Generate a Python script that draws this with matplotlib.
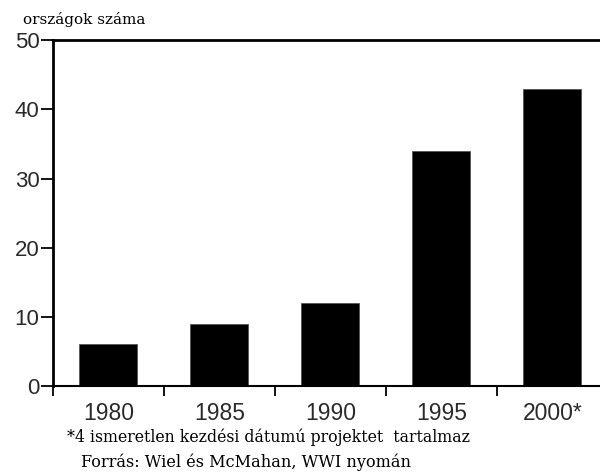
import matplotlib.pyplot as plt
import numpy as np

# data
years = ['1980', '1985', '1990', '1995', '2000*']
counts = [6, 9, 12, 34, 43]
y_ticks = [0, 10, 20, 30, 40, 50]

fig = plt.figure(figsize=(6, 4.73), dpi=100)
ax = fig.add_axes([0.088, 0.184, 0.912, 0.731])

x = np.arange(len(years))
ax.bar(x, counts, width=0.52, color='black', edgecolor='#555555', linewidth=0.6)

ax.set_xlim(-0.5, 4.43)
ax.set_ylim(0, 50)

sans = 'Liberation Sans'
# ticks between bars only, labels under bar centres
ax.set_xticks(np.arange(-0.5, 4.0, 1.0))
ax.set_xticklabels([])
ax.tick_params(axis='x', direction='out', length=7.5, width=1.3)
for xi, lab in zip(x, years):
    ax.text(xi, -4.05, lab, ha='center', va='center', fontsize=16.5,
            color='#2a2a2a', family=sans)

ax.set_yticks(y_ticks)
ax.set_yticklabels([str(v) for v in y_ticks], family=sans)
ax.tick_params(axis='y', direction='out', length=9, width=1.3,
               labelsize=16, labelcolor='#2a2a2a', pad=0.5)

for s in ['left', 'top']:
    ax.spines[s].set_linewidth(2)
ax.spines['bottom'].set_linewidth(1.5)
ax.spines['right'].set_visible(False)

serif = 'DejaVu Serif'
fig.text(0.038, 0.958, 'országok száma', fontsize=11, family=serif,
         ha='left', va='center')
fig.text(0.112, 0.076, '*4 ismeretlen kezdési dátumú projektet  tartalmaz',
         fontsize=11.3, family=serif, ha='left', va='center')
fig.text(0.135, 0.023, 'Forrás: Wiel és McMahan, WWI nyomán',
         fontsize=11.6, family=serif, ha='left', va='center')

fig.savefig('out.png', dpi=100)
